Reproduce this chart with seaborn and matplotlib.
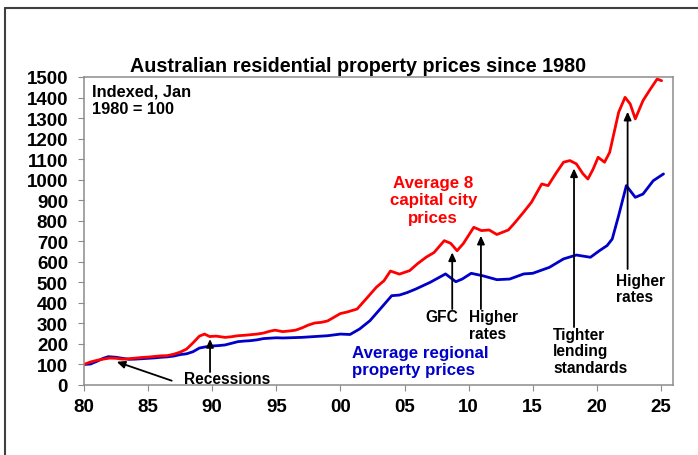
import matplotlib
matplotlib.use("Agg")
import matplotlib.pyplot as plt
import seaborn as sns
import pandas as pd
from matplotlib.lines import Line2D

# ---- data ----
cap_years = [1980.0, 1980.5, 1981.0, 1981.5, 1982.0, 1982.5, 1983.0, 1983.5, 1984.0, 1984.5,
             1985.0, 1985.5, 1986.0, 1986.5, 1987.0, 1987.5, 1988.0, 1988.5, 1989.0, 1989.4,
             1989.8, 1990.3, 1991.0, 1991.5, 1992.0, 1992.5, 1993.0, 1993.5, 1994.0, 1994.5,
             1994.9, 1995.5, 1996.0, 1996.5, 1997.0, 1997.5, 1998.0, 1998.5, 1999.0, 1999.5,
             2000.0, 2000.5, 2001.3, 2002.0, 2002.8, 2003.4, 2003.9, 2004.6, 2005.4, 2006.0,
             2006.7, 2007.3, 2008.1, 2008.6, 2009.1, 2009.6, 2010.4, 2011.0, 2011.6, 2012.2,
             2013.1, 2013.6, 2014.2, 2014.9, 2015.7, 2016.2, 2016.8, 2017.4, 2017.9, 2018.4,
             2018.9, 2019.3, 2019.7, 2020.1, 2020.6, 2021.0, 2021.7, 2022.2, 2022.6, 2023.0,
             2023.6, 2024.1, 2024.7, 2025.05]
cap_values = [100, 112, 120, 126, 131, 130, 126, 128, 131, 134,
              136, 139, 142, 143, 150, 160, 175, 205, 238, 248,
              236, 238, 232, 235, 240, 242, 245, 248, 253, 262,
              267, 260, 263, 267, 278, 292, 302, 305, 312, 330,
              348, 355, 370, 419, 476, 508, 555, 540, 557, 590,
              623, 645, 703, 690, 654, 690, 768, 752, 755, 733,
              755, 790, 835, 890, 979, 971, 1030, 1085, 1093, 1077,
              1030, 1003, 1050, 1109, 1085, 1133, 1328, 1401, 1369, 1296,
              1385, 1434, 1490, 1482]

reg_years = [1980.0, 1980.5, 1981.0, 1981.5, 1981.9, 1982.5, 1983.0, 1983.5, 1984.0, 1984.5,
             1985.0, 1985.5, 1986.0, 1986.5, 1987.0, 1987.5, 1988.0, 1988.5, 1989.0, 1989.5,
             1990.0, 1990.5, 1991.0, 1991.5, 1992.0, 1992.5, 1993.0, 1993.5, 1994.0, 1994.5,
             1995.0, 1995.5, 1996.0, 1996.5, 1997.0, 1997.5, 1998.0, 1998.5, 1999.0, 1999.5,
             2000.0, 2000.75, 2001.5, 2002.3, 2003.1, 2004.0, 2004.6, 2005.2, 2005.9, 2007.0,
             2008.2, 2009.0, 2009.5, 2010.2, 2011.1, 2012.2, 2013.2, 2014.3, 2015.0, 2016.3,
             2017.4, 2018.4, 2019.5, 2020.2, 2020.8, 2021.2, 2021.7, 2022.3, 2023.0, 2023.6,
             2024.4, 2025.2]
reg_values = [100, 102, 115, 130, 138, 135, 130, 125, 126, 128,
              130, 132, 135, 137, 141, 148, 152, 162, 180, 186,
              190, 192, 195, 203, 211, 214, 216, 220, 226, 228,
              230, 229, 230, 231, 232, 234, 236, 238, 240, 244,
              248, 246, 273, 313, 370, 435, 438, 450, 468, 500,
              541, 503, 516, 544, 532, 513, 516, 541, 544, 573,
              614, 633, 622, 654, 679, 711, 825, 971, 914, 930,
              995, 1028]

x_ticks = [1980, 1985, 1990, 1995, 2000, 2005, 2010, 2015, 2020, 2025]
x_labels = ["80", "85", "90", "95", "00", "05", "10", "15", "20", "25"]
y_ticks = list(range(0, 1501, 100))

RED = "#FF0000"
BLUE = "#0000C8"

sns.set_theme(style="white")
plt.rcParams["font.family"] = ["Liberation Sans", "DejaVu Sans"]
plt.rcParams["font.weight"] = "bold"
plt.rcParams["text.color"] = "black"

fig = plt.figure(figsize=(6.98, 4.56), dpi=100)
ax = fig.add_axes([84/698, 1-386/456, (673-84)/698, (386-78)/456])

cap_df = pd.DataFrame({"year": cap_years, "value": cap_values})
reg_df = pd.DataFrame({"year": reg_years, "value": reg_values})
sns.lineplot(data=reg_df, x="year", y="value", color=BLUE, linewidth=2.0, ax=ax)
sns.lineplot(data=cap_df, x="year", y="value", color=RED, linewidth=2.0, ax=ax)

ax.set_xlim(1980, 2025.94)
ax.set_ylim(0, 1500)
ax.set_xticks(x_ticks)
ax.set_xticklabels(x_labels)
ax.set_yticks(y_ticks)
ax.set_xlabel("")
ax.set_ylabel("")
for s in ax.spines.values():
    s.set_color("#8c8c8c")
    s.set_linewidth(1.1)
ax.tick_params(axis="both", which="both", direction="out", length=4.5, width=0.8,
               color="#8c8c8c", labelsize=13.5, labelcolor="black")
ax.tick_params(axis="y", pad=7)
ax.tick_params(axis="x", pad=5)
ax.tick_params(left=True, bottom=True)
for lab in ax.get_xticklabels() + ax.get_yticklabels():
    lab.set_fontweight("bold")

fig.text(357.5/698, 1-66.7/456, "Australian residential property prices since 1980",
         ha="center", va="center", fontsize=14.2, fontweight="bold", color="black")

ax.text(1980.62, 1390, "Indexed, Jan\n1980 = 100", ha="left", va="center",
        fontsize=11.8, fontweight="bold", linespacing=1.2, color="black")

ax.text(2007.24, 902, "Average 8\ncapital city\nprices", ha="center", va="center",
        fontsize=12.2, fontweight="bold", color=RED, linespacing=1.2)
ax.text(2000.88, 118, "Average regional\nproperty prices", ha="left", va="center",
        fontsize=12.2, fontweight="bold", color=BLUE, linespacing=1.15)

akw = dict(arrowstyle="-|>,head_length=0.4,head_width=0.18", color="black", lw=1.3,
           shrinkA=0, shrinkB=0)
AF = 11.2
TK = dict(fontsize=AF, fontweight="bold", color="black")
# Recessions
ax.annotate("", xy=(1982.55, 113), xytext=(1986.84, 21), arrowprops=akw)
ax.annotate("", xy=(1989.83, 224), xytext=(1989.83, 63), arrowprops=akw)
ax.text(1991.13, 33, "Recessions", ha="center", va="center", **TK)
# GFC
ax.annotate("", xy=(2008.72, 646), xytext=(2008.72, 370), arrowprops=akw)
ax.text(2007.92, 333, "GFC", ha="center", va="center", **TK)
# Higher rates 2010
ax.annotate("", xy=(2010.96, 727), xytext=(2010.96, 370), arrowprops=akw)
ax.text(2010.03, 292, "Higher\nrates", ha="left", va="center", linespacing=1.15, **TK)
# Tighter lending
ax.annotate("", xy=(2018.22, 1055), xytext=(2018.22, 282), arrowprops=akw)
ax.text(2016.58, 166, "Tighter\nlending\nstandards", ha="left", va="center",
        linespacing=1.12, **TK)
# Higher rates 2022
ax.annotate("", xy=(2022.4, 1331), xytext=(2022.4, 565), arrowprops=akw)
ax.text(2021.47, 470, "Higher\nrates", ha="left", va="center", linespacing=1.15, **TK)

# outer frame (top and left edges visible)
fig.add_artist(Line2D([5/698, 5/698], [0, 1-9/456], transform=fig.transFigure,
                      color="#404040", lw=1.5))
fig.add_artist(Line2D([5/698, 1], [1-9/456, 1-9/456], transform=fig.transFigure,
                      color="#404040", lw=1.5))

fig.savefig("out.png", dpi=100)
